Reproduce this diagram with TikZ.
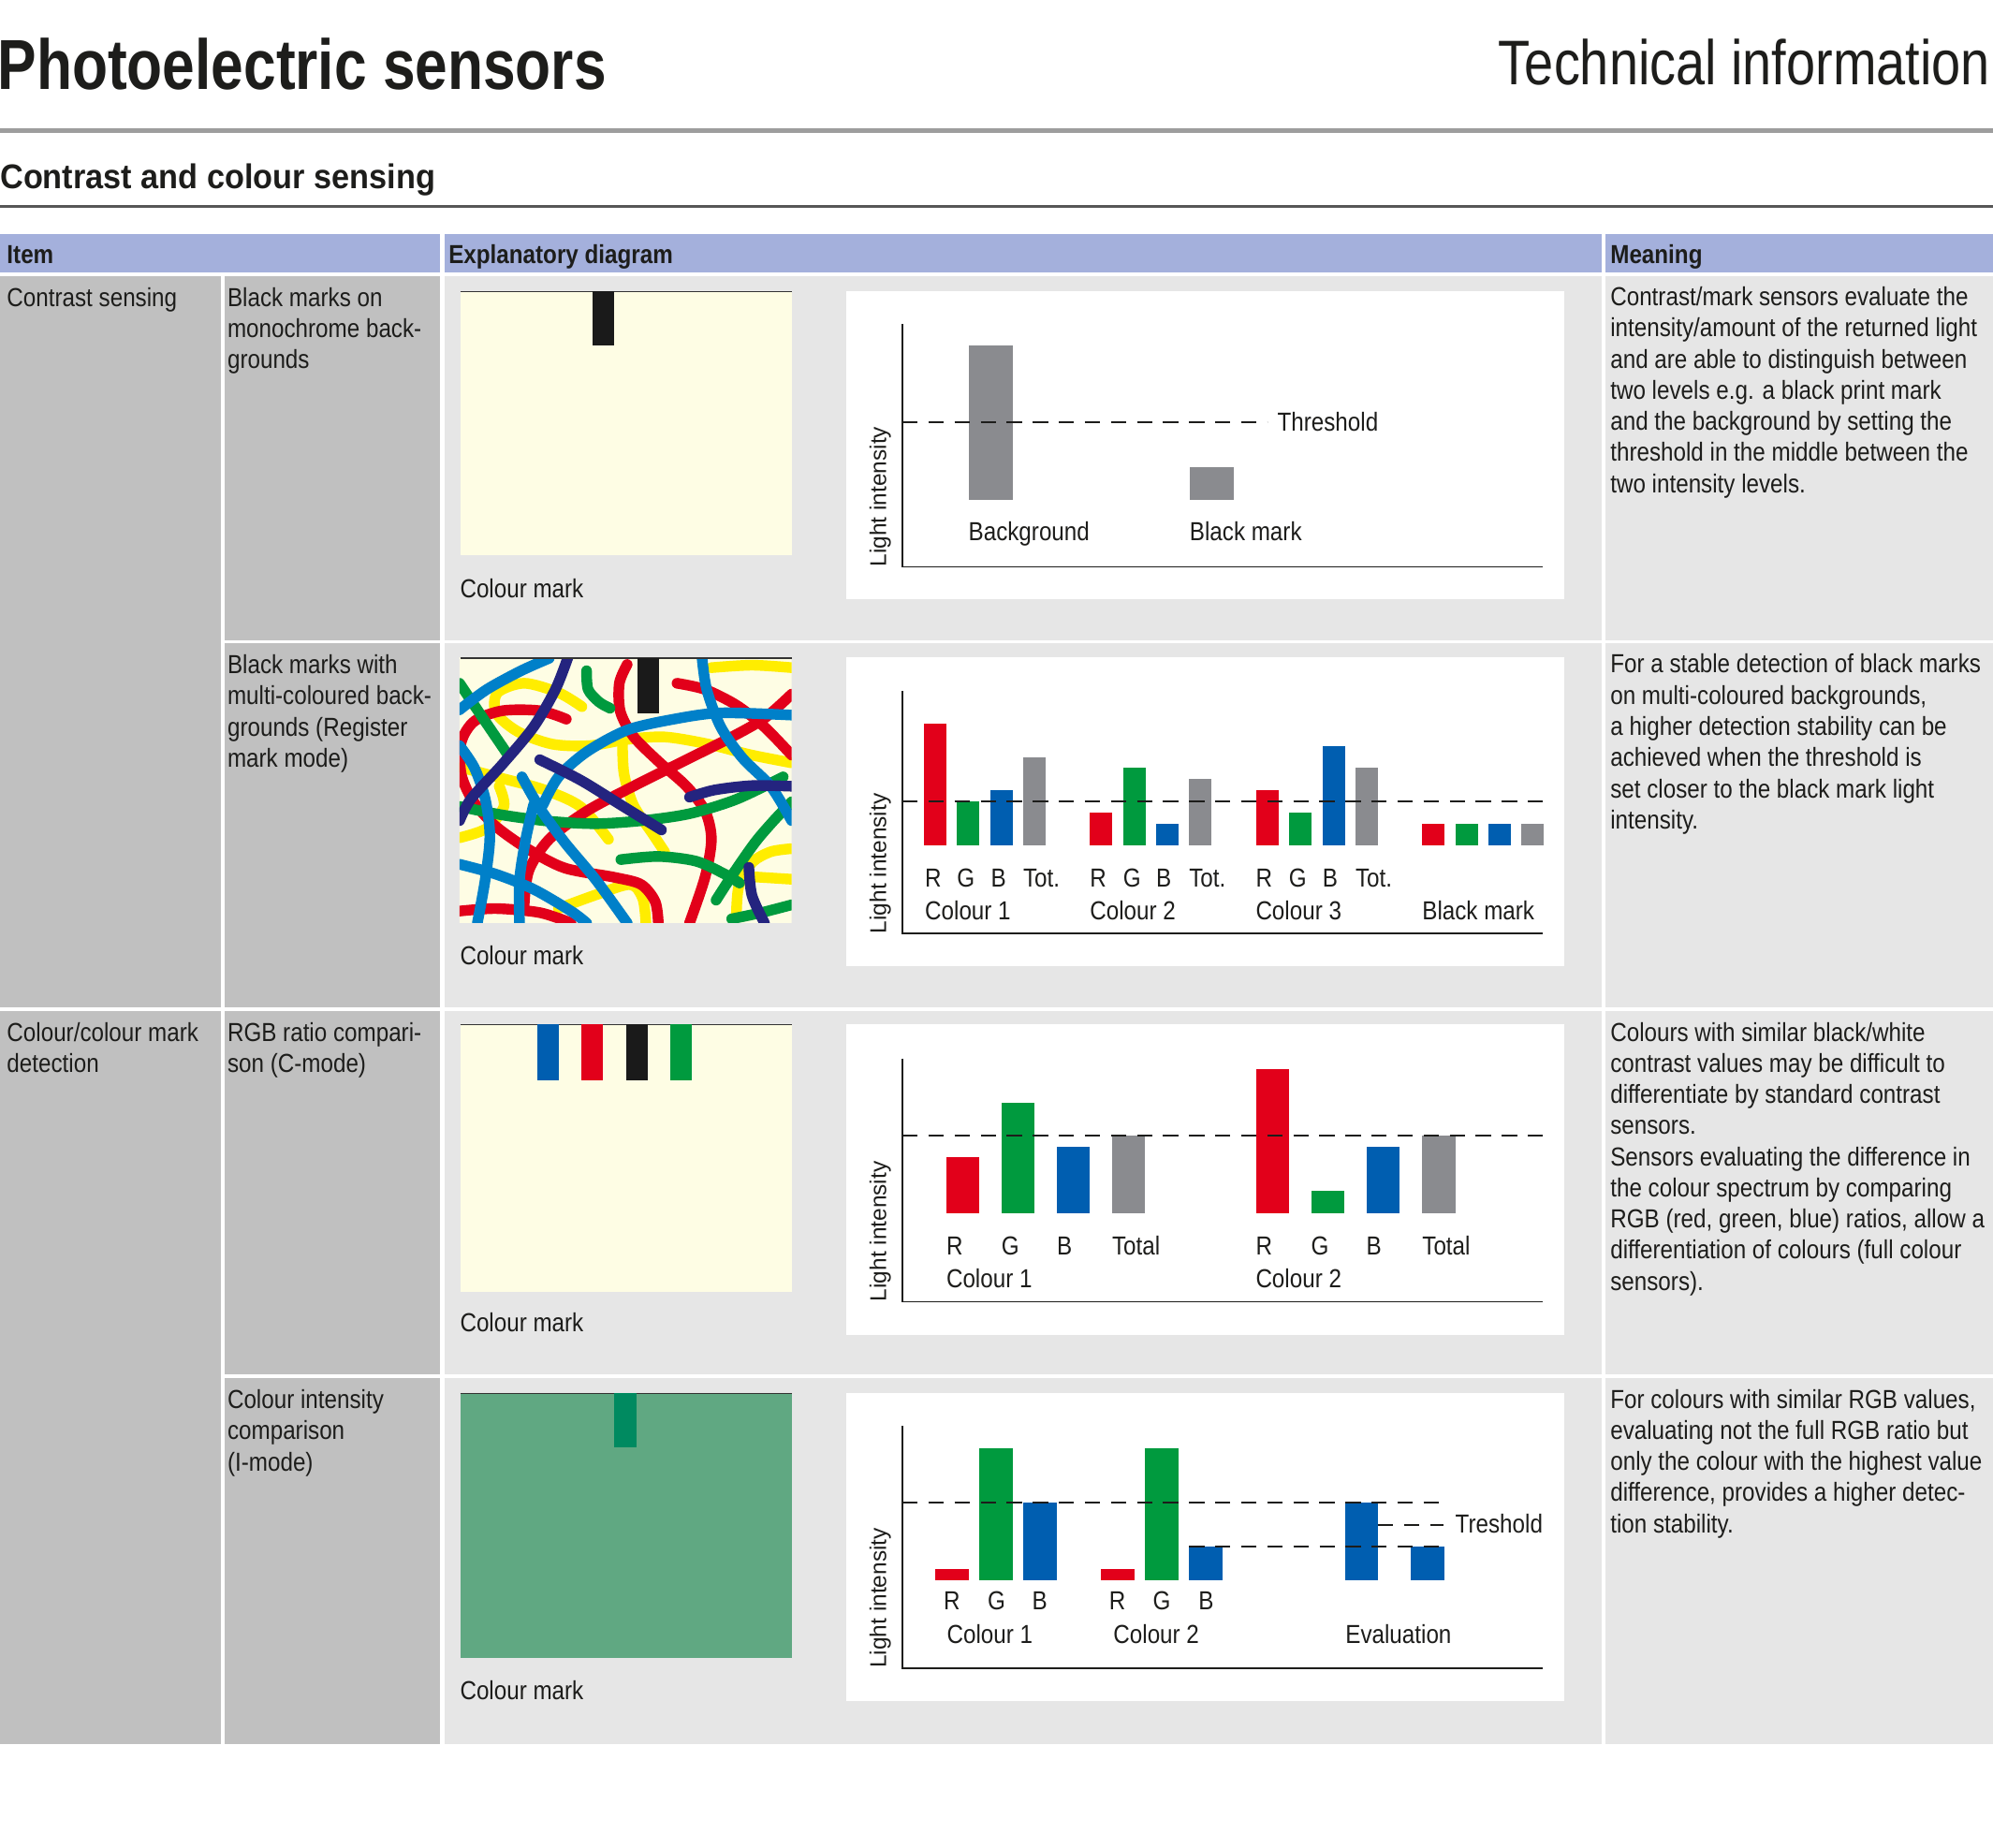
\documentclass[tikz,border=0pt]{standalone}
\usepackage{fontspec}
\setmainfont{Liberation Sans}[FakeStretch=0.87]
\newfontfamily\titlefont{Liberation Sans}[FakeStretch=0.823]
\newfontfamily\techfont{Liberation Sans}[FakeStretch=0.83]
\newfontfamily\subfont{Liberation Sans}[FakeStretch=0.935]
\newfontfamily\axisfont{Liberation Sans}
\definecolor{hdr}{HTML}{A4B0DC}
\definecolor{itemgray}{HTML}{C0C0C0}
\definecolor{cellgray}{HTML}{E6E6E6}
\definecolor{cream}{HTML}{FEFDE4}
\definecolor{bargray}{HTML}{8A8B8F}
\definecolor{cred}{HTML}{E2001A}
\definecolor{cgreen}{HTML}{009A3E}
\definecolor{cblue}{HTML}{005EB0}
\definecolor{lblue}{HTML}{0080C9}
\definecolor{dblue}{HTML}{24247F}
\definecolor{cyel}{HTML}{FFED00}
\definecolor{bggreen}{HTML}{60A882}
\definecolor{mkgreen}{HTML}{008A60}
\definecolor{mkblack}{HTML}{1A1A1A}
\definecolor{txtcol}{HTML}{1D1D1B}
\definecolor{rule1}{HTML}{9D9D9D}
\definecolor{rule2}{HTML}{575757}
\tikzset{
  txt/.style={inner sep=0pt, outer sep=0pt, anchor=base west, text=txtcol,
    font=\fontsize{20.5}{24.5}\selectfont},
  ctxt/.style={txt, anchor=base},
  hdrtxt/.style={txt, font=\fontsize{20.5}{24.5}\selectfont\bfseries},
  ylab/.style={rotate=90, anchor=west, inner sep=0pt, text=txtcol,
    font=\axisfont\fontsize{18}{20}\selectfont},
  axisline/.style={draw=txtcol, line width=1.3pt},
  thr/.style={draw=txtcol, line width=1.45pt, dash pattern=on 12pt off 8.5pt},
  imgtop/.style={draw=black!80, line width=1pt},
  scrib/.style={line width=8.4pt, line cap=round, line join=round},
}
\newcommand\tline[4]{\node[txt] (#1) at (#2,#3) {#4};}
\begin{document}
\begin{tikzpicture}[x=1pt,y=-1pt]
\useasboundingbox (0,0) rectangle (1568,1453.8);
\fill[white] (0,0) rectangle (1568,1453.8);

% ---------- titles ----------
\node[inner sep=0pt, anchor=base west, text=txtcol, font=\titlefont\fontsize{55.7}{60}\selectfont\bfseries] (title) at (-2,70.7) {Photoelectric sensors};
\node[inner sep=0pt, anchor=base east, text=txtcol, font=\techfont\fontsize{49.6}{55}\selectfont] (tech) at (1566,66.3) {Technical information};
\draw[rule1, line width=3.7pt] (0,102.5) -- (1568,102.5);
\node[inner sep=0pt, anchor=base west, text=txtcol, font=\subfont\fontsize{27}{30}\selectfont\bfseries] (sub) at (0,148.5) {Contrast and colour sensing};
\draw[rule2, line width=2.4pt] (0,162.4) -- (1568,162.4);

% ---------- table cells ----------
\fill[hdr] (0,184) rectangle (346.5,214);
\fill[hdr] (349.5,184) rectangle (1260,214);
\fill[hdr] (1263,184) rectangle (1568,214);
\fill[itemgray] (0,217) rectangle (173.5,792.5);
\fill[itemgray] (0,795.5) rectangle (173.5,1372);
\foreach \ta/\tb in {217/503.5, 506/792.5, 795.5/1081.5, 1084.2/1372} {
  \fill[itemgray] (176.5,\ta) rectangle (346.5,\tb);
  \fill[cellgray] (349.5,\ta) rectangle (1260,\tb);
  \fill[cellgray] (1263,\ta) rectangle (1568,\tb);
}

% ---------- header texts ----------
\node[hdrtxt] (hItem) at (5.5,207) {Item};
\node[hdrtxt] (hExp) at (353,207) {Explanatory diagram};
\node[hdrtxt] (hMean) at (1267,207) {Meaning};

% ---------- item texts ----------
\tline{c1a}{5.5}{241}{Contrast sensing}
\tline{c1b}{5.5}{819.5}{Colour/colour mark}
\tline{c1c}{5.5}{844}{detection}
\tline{r1a}{179}{241}{Black marks on}
\tline{r1b}{179}{265.5}{monochrome back-}
\tline{r1c}{179}{290}{grounds}
\tline{r2a}{179}{530}{Black marks with}
\tline{r2b}{179}{554.5}{multi-coloured back-}
\tline{r2c}{179}{579}{grounds (Register}
\tline{r2d}{179}{603.5}{mark mode)}
\tline{r3a}{179}{819.5}{RGB ratio compari-}
\tline{r3b}{179}{844}{son (C-mode)}
\tline{r4a}{179}{1108.2}{Colour intensity}
\tline{r4b}{179}{1132.7}{comparison}
\tline{r4c}{179}{1157.2}{(I-mode)}

% ---------- meaning texts ----------
\tline{m1a}{1267}{240.5}{Contrast/mark sensors evaluate the}
\tline{m1b}{1267}{265}{intensity/amount of the returned light}
\tline{m1c}{1267}{289.5}{and are able to distinguish between}
\tline{m1d}{1267}{314}{two levels e.g. a black print mark}
\tline{m1e}{1267}{338.5}{and the background by setting the}
\tline{m1f}{1267}{363}{threshold in the middle between the}
\tline{m1g}{1267}{387.5}{two intensity levels.}
\tline{m2a}{1267}{529.5}{For a stable detection of black marks}
\tline{m2b}{1267}{554}{on multi-coloured backgrounds,}
\tline{m2c}{1267}{578.5}{a higher detection stability can be}
\tline{m2d}{1267}{603}{achieved when the threshold is}
\tline{m2e}{1267}{627.5}{set closer to the black mark light}
\tline{m2f}{1267}{652}{intensity.}
\tline{m3a}{1267}{819}{Colours with similar black/white}
\tline{m3b}{1267}{843.5}{contrast values may be difficult to}
\tline{m3c}{1267}{868}{differentiate by standard contrast}
\tline{m3d}{1267}{892.5}{sensors.}
\tline{m3e}{1267}{917}{Sensors evaluating the difference in}
\tline{m3f}{1267}{941.5}{the colour spectrum by comparing}
\tline{m3g}{1267}{966}{RGB (red, green, blue) ratios, allow a}
\tline{m3h}{1267}{990.5}{differentiation of colours (full colour}
\tline{m3i}{1267}{1015}{sensors).}
\tline{m4a}{1267}{1107.7}{For colours with similar RGB values,}
\tline{m4b}{1267}{1132.2}{evaluating not the full RGB ratio but}
\tline{m4c}{1267}{1156.7}{only the colour with the highest value}
\tline{m4d}{1267}{1181.2}{difference, provides a higher detec-}
\tline{m4e}{1267}{1205.7}{tion stability.}

% ---------- images ----------
% row 1
\fill[cream] (362,229) rectangle (622.7,437);
\draw[imgtop] (362,229.3) -- (622.7,229.3);
\fill[mkblack] (466,229) rectangle (483.5,272);
\tline{cm1}{362}{470}{Colour mark}
% row 2 scribble
\begin{scope}[shift={(346.1,500.7)}, x=0.2455pt, y=-0.2455pt]
  \clip (63,68) rectangle (1127,918);
  \fill[cream] (0,0) rectangle (1200,1000);
  \begin{scope}[scrib, cyel]
    \draw plot[smooth] coordinates {(455,225) (380,180) (270,150) (185,180) (180,245) (250,305) (360,345) (480,350) (600,330) (720,322) (860,345) (990,378) (1127,405)};
    \draw plot[smooth] coordinates {(870,100) (1000,92) (1127,100)};
    \draw plot[smooth] coordinates {(70,420) (200,455) (330,490) (450,545) (540,650)};
    \draw plot[smooth] coordinates {(63,645) (150,615) (205,545) (190,480)};
    \draw plot[smooth] coordinates {(585,340) (590,440) (620,540) (680,630) (720,690)};
    \draw plot[smooth] coordinates {(380,872) (500,828) (610,795) (650,840) (660,918)};
    \draw plot[smooth] coordinates {(950,895) (958,800) (1000,725) (1060,690) (1127,680)};
    \draw plot[smooth] coordinates {(1000,770) (1127,778)};
  \end{scope}
  \begin{scope}[scrib, cred]
    \draw plot[smooth] coordinates {(405,265) (320,238) (200,238) (110,272) (68,340) (68,440) (105,525) (175,605) (280,680) (400,742) (560,772) (645,795) (690,850) (700,918)};
    \draw plot[smooth] coordinates {(600,90) (575,150) (578,240) (620,320) (700,400) (790,480) (850,560) (870,650) (850,770) (800,918)};
    \draw plot[smooth] coordinates {(760,150) (850,170) (950,220) (1040,290) (1127,380)};
    \draw plot[smooth] coordinates {(1127,185) (1040,262) (930,325) (780,400) (620,480) (470,560) (350,650) (285,750) (270,860)};
    \draw plot[smooth] coordinates {(63,880) (180,872) (320,885) (420,918)};
  \end{scope}
  \begin{scope}[scrib, cgreen]
    \draw plot[smooth] coordinates {(470,110) (475,170) (510,210) (545,230)};
    \draw plot[smooth] coordinates {(63,150) (130,250) (215,375)};
    \draw plot[smooth] coordinates {(63,545) (200,572) (350,592) (500,600) (650,590) (800,568) (950,522) (1100,450)};
    \draw plot[smooth] coordinates {(580,715) (700,705) (820,720) (910,760) (960,790)};
    \draw plot[smooth] coordinates {(885,845) (940,760) (1010,660) (1070,590) (1127,530)};
    \draw plot[smooth] coordinates {(935,905) (1030,885) (1127,860)};
  \end{scope}
  \begin{scope}[scrib, lblue]
    \draw plot[smooth] coordinates {(63,235) (150,170) (260,110) (350,70)};
    \draw plot[smooth] coordinates {(330,540) (380,450) (470,370) (600,300) (750,265) (900,245) (1127,252)};
    \draw plot[smooth] coordinates {(840,68) (855,170) (900,290) (970,390) (1060,480) (1127,590)};
    \draw plot[smooth] coordinates {(263,450) (320,550) (400,660) (500,780) (600,918)};
    \draw plot[smooth] coordinates {(63,350) (110,420) (145,520) (160,640) (145,780) (120,918)};
    \draw plot[smooth] coordinates {(300,540) (275,650) (255,780) (255,918)};
    \draw plot[smooth] coordinates {(63,730) (180,762) (300,810) (420,880) (470,918)};
  \end{scope}
  \begin{scope}[scrib, dblue]
    \draw plot[smooth] coordinates {(410,68) (370,170) (300,290) (200,410) (100,520) (63,590)};
    \draw plot[smooth] coordinates {(320,395) (450,460) (580,540) (710,620)};
    \draw plot[smooth] coordinates {(800,515) (880,492) (1000,478) (1127,480)};
    \draw plot[smooth] coordinates {(990,740) (1000,830) (1040,918)};
  \end{scope}
\end{scope}
\draw[imgtop] (362,517.7) -- (622.7,517.7);
\fill[mkblack] (501.3,517.4) rectangle (518.4,560.9);
\tline{cm2}{362}{759}{Colour mark}
% row 3
\fill[cream] (362,806) rectangle (622.7,1016);
\draw[imgtop] (362,806.3) -- (622.7,806.3);
\fill[cblue] (423,806) rectangle (440,850);
\fill[cred] (457.3,806) rectangle (474.4,850);
\fill[mkblack] (492.4,806) rectangle (509.6,850);
\fill[cgreen] (527,806) rectangle (544.3,850);
\tline{cm3}{362}{1048}{Colour mark}
% row 4
\fill[bggreen] (362,1096) rectangle (622.7,1304);
\draw[imgtop] (362,1096.3) -- (622.7,1096.3);
\fill[mkgreen] (483.4,1096) rectangle (500.8,1138.8);
\tline{cm4}{362}{1337}{Colour mark}

% ---------- chart 1 ----------
\fill[white] (666,229) rectangle (1231,471);
\fill[bargray] (762,272) rectangle (797,393.5);
\fill[bargray] (936,367.5) rectangle (970.5,393.5);
\draw[thr] (710,332.4) -- (997,332.4);
\draw[axisline] (710,255) -- (710,446) -- (1214,446);
\node[ylab] (yl1) at (692.5,446) {Light intensity};
\tline{th1}{1005}{339.2}{Threshold}
\tline{bg1}{762}{425.5}{Background}
\tline{bm1}{936}{425.5}{Black mark}

% ---------- chart 2 ----------
\fill[white] (666,517) rectangle (1231,760);
\foreach \xx/\tt/\cc in {727/569/cred, 753/630.5/cgreen, 779.5/621.5/cblue, 805/595.5/bargray,
  857.5/639/cred, 883.6/604/cgreen, 909.6/648/cblue, 935.6/613/bargray,
  988/621.5/cred, 1014/639/cgreen, 1040.5/587/cblue, 1066.5/604/bargray,
  1118.8/648/cred, 1145/648/cgreen, 1171/648/cblue, 1197/648/bargray}
  {\fill[\cc] (\xx,\tt) rectangle (\xx+17.7,665);}
\draw[thr] (710,630.5) -- (1214,630.5);
\draw[axisline] (710,543.5) -- (710,734.5) -- (1214,734.5);
\node[ylab] (yl2) at (692.5,734.5) {Light intensity};
\tline{l2r1}{727.8}{698}{R}
\tline{l2g1}{753}{698}{G}
\tline{l2b1}{779.7}{698}{B}
\tline{l2t1}{805}{698}{Tot.}
\tline{l2r2}{857.5}{698}{R}
\tline{l2g2}{883.6}{698}{G}
\tline{l2b2}{909.6}{698}{B}
\tline{l2t2}{935.6}{698}{Tot.}
\tline{l2r3}{988}{698}{R}
\tline{l2g3}{1014}{698}{G}
\tline{l2b3}{1040.5}{698}{B}
\tline{l2t3}{1066.5}{698}{Tot.}
\tline{l2c1}{727.8}{723.6}{Colour 1}
\tline{l2c2}{857.5}{723.6}{Colour 2}
\tline{l2c3}{988}{723.6}{Colour 3}
\tline{l2bm}{1119}{723.6}{Black mark}

% ---------- chart 3 ----------
\fill[white] (666,806) rectangle (1231,1050);
\foreach \xx/\tt/\cc in {744.6/910.5/cred, 788/867.4/cgreen, 831.5/902/cblue, 875/893.4/bargray,
  988/841/cred, 1031.5/936.7/cgreen, 1075/902/cblue, 1119/893.4/bargray}
  {\fill[\cc] (\xx,\tt) rectangle (\xx+26,954.4);}
\draw[thr] (710,893.4) -- (1214,893.4);
\draw[axisline] (710,832.6) -- (710,1024) -- (1214,1024);
\node[ylab] (yl3) at (692.5,1024) {Light intensity};
\tline{l3r1}{744.6}{987}{R}
\tline{l3g1}{788}{987}{G}
\tline{l3b1}{831.5}{987}{B}
\tline{l3t1}{875}{987}{Total}
\tline{l3r2}{988}{987}{R}
\tline{l3g2}{1031.5}{987}{G}
\tline{l3b2}{1075}{987}{B}
\tline{l3t2}{1119}{987}{Total}
\tline{l3c1}{744.6}{1012.7}{Colour 1}
\tline{l3c2}{988}{1012.7}{Colour 2}

% ---------- chart 4 ----------
\fill[white] (666,1096) rectangle (1231,1338);
\foreach \xx/\tt/\cc in {735.6/1234.4/cred, 770.6/1139/cgreen, 805/1182.4/cblue,
  866/1234.4/cred, 901/1139/cgreen, 935.6/1217/cblue,
  1058/1182.4/cblue, 1110/1217/cblue}
  {\fill[\cc] (\xx,\tt) rectangle (\xx+26.4,1243);}
\draw[thr] (710,1182.4) -- (1136,1182.4);
\draw[thr] (935.6,1217) -- (1136,1217);
\draw[thr] (1084,1199.6) -- (1136,1199.6);
\draw[axisline] (710,1121.7) -- (710,1312.4) -- (1214,1312.4);
\node[ylab] (yl4) at (692.5,1312.4) {Light intensity};
\node[ctxt] (l4r1) at (749,1266.7) {R};
\node[ctxt] (l4g1) at (784,1266.7) {G};
\node[ctxt] (l4b1) at (818,1266.7) {B};
\node[ctxt] (l4r2) at (879,1266.7) {R};
\node[ctxt] (l4g2) at (914,1266.7) {G};
\node[ctxt] (l4b2) at (949,1266.7) {B};
\tline{l4c1}{745}{1293}{Colour 1}
\tline{l4c2}{876}{1293}{Colour 2}
\tline{l4ev}{1058.6}{1293}{Evaluation}
\tline{l4th}{1145}{1206.2}{Treshold}
\end{tikzpicture}
\end{document}
